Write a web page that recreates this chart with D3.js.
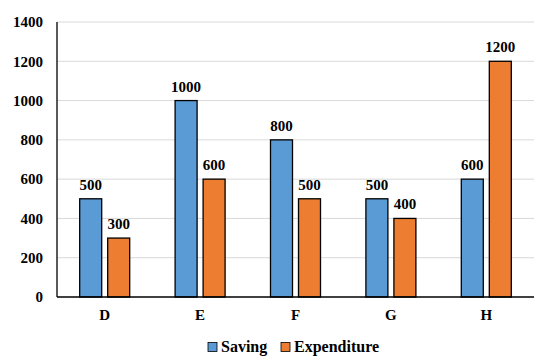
<!DOCTYPE html>
<html><head><meta charset="utf-8">
<script src="https://cdn.jsdelivr.net/npm/d3@7"></script>
</head><body style="margin:0;background:#fff">
<svg id="c" width="555" height="359" style="display:block"></svg>
<script>
const categories = ["D","E","F","G","H"];
const saving = [500,1000,800,500,600];
const expenditure = [300,600,500,400,1200];
const yTicks = [0,200,400,600,800,1000,1200,1400];
const seriesNames = ["Saving","Expenditure"];
const colors = ["#5b9bd5","#ed7d31"];

const svg = d3.select("#c");
const m = {l:57, r:21, t:22, b:62};
const W = 555, H = 359;
const x = d3.scaleBand().domain(categories).range([m.l, W-m.r]);
const y = d3.scaleLinear().domain([0,1400]).range([H-m.b, m.t]);

function serif(sel, size){
  return sel.style("font-family", "'Liberation Serif', 'Times New Roman', serif")
    .style("font-weight", "bold").style("font-size", size + "px").attr("fill", "#000");
}

// gridlines
svg.append("g").selectAll("line").data(yTicks.filter(d=>d>0)).join("line")
  .attr("x1", m.l).attr("x2", W-m.r)
  .attr("y1", d=>y(d)).attr("y2", d=>y(d))
  .attr("stroke", "#d9d9d9").attr("stroke-width", 1);

// y axis labels
const yAxis = d3.axisLeft(y).tickValues(yTicks).tickFormat(d3.format("d")).tickSize(0).tickPadding(14);
const gy = svg.append("g").attr("transform", `translate(${m.l},0)`).call(yAxis);
gy.select(".domain").remove();
serif(gy.selectAll("text"), 15);

const bw = 22, gap = 6;
const data = categories.map((c,i)=>({c, vals:[saving[i], expenditure[i]]}));
const g = svg.append("g");
data.forEach(d=>{
  const cx = x(d.c) + x.bandwidth()/2;
  d.vals.forEach((v,k)=>{
    const x0 = k===0 ? cx - gap/2 - bw : cx + gap/2;
    g.append("rect").attr("x", x0).attr("y", y(v))
      .attr("width", bw).attr("height", y(0)-y(v))
      .attr("fill", colors[k]).attr("stroke", "#000").attr("stroke-width", 1.3);
    serif(g.append("text").attr("x", x0 + bw/2).attr("y", y(v) - 9)
      .attr("text-anchor","middle").text(v), 15);
  });
});

// axes lines
svg.append("line").attr("x1", m.l).attr("x2", m.l).attr("y1", m.t).attr("y2", y(0)).attr("stroke","#000").attr("stroke-width",1.3);
svg.append("line").attr("x1", m.l).attr("x2", W-m.r).attr("y1", y(0)).attr("y2", y(0)).attr("stroke","#000").attr("stroke-width",1.3);

// x labels
const xAxis = d3.axisBottom(x).tickSize(0).tickPadding(12);
const gx = svg.append("g").attr("transform", `translate(0,${y(0)})`).call(xAxis);
gx.select(".domain").remove();
serif(gx.selectAll("text"), 15);

// legend
const leg = svg.append("g");
const lx = [208, 281];
seriesNames.forEach((n,k)=>{
  leg.append("rect").attr("x", lx[k]).attr("y", 342.5).attr("width", 9).attr("height", 9)
    .attr("fill", colors[k]).attr("stroke","#000").attr("stroke-width",0.8);
  serif(leg.append("text").attr("x", lx[k]+13).attr("y", 352).text(n), 16);
});
</script>
</body></html>
